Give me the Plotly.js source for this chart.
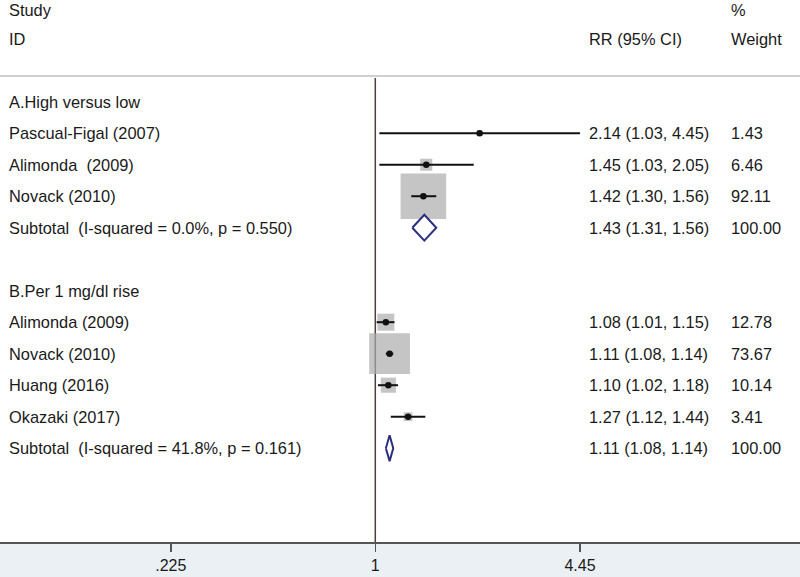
<!DOCTYPE html>
<html>
<head>
<meta charset="utf-8">
<script src="https://cdn.plot.ly/plotly-3.0.1.min.js"></script>
<style>html,body{margin:0;padding:0;background:#fff;}#chart{width:800px;height:577px;}</style>
</head>
<body>
<div id="chart"></div>
<script>
// ---- data ----
const groupLabels = ['A.High versus low', 'B.Per 1 mg/dl rise'];

const studiesA = ['Pascual-Figal (2007)', 'Alimonda\u00a0\u00a0(2009)', 'Novack (2010)'];
const rrA = [2.14, 1.45, 1.42];
const loA = [1.03, 1.03, 1.30];
const hiA = [4.45, 2.05, 1.56];
const weightA = [1.43, 6.46, 92.11];
const subLabelA = 'Subtotal\u00a0\u00a0(I-squared = 0.0%, p = 0.550)';
const subA = [1.43, 1.31, 1.56, 100.00]; // RR, lo, hi, weight

const studiesB = ['Alimonda (2009)', 'Novack (2010)', 'Huang (2016)', 'Okazaki (2017)'];
const rrB = [1.08, 1.11, 1.10, 1.27];
const loB = [1.01, 1.08, 1.02, 1.12];
const hiB = [1.15, 1.14, 1.18, 1.44];
const weightB = [12.78, 73.67, 10.14, 3.41];
const subLabelB = 'Subtotal\u00a0\u00a0(I-squared = 41.8%, p = 0.161)';
const subB = [1.11, 1.08, 1.14, 100.00];

const tickVals = [0.225, 1, 4.45];
const tickText = ['.225', '1', '4.45'];

// ---- build rows ----
const FONT = 'Liberation Sans, Arial, sans-serif';
const TXT = '#1a1a1a';
const annotations = [];
function txt(xpx, row, s) {
  annotations.push({x: xpx / 800, xref: 'paper', y: row, yref: 'y', text: s,
    showarrow: false, xanchor: 'left', yanchor: 'middle', borderpad: 0, borderwidth: 0,
    font: {family: FONT, size: 16.4, color: TXT}});
}
const colL = 8.5, colRR = 588.5, colW = 731;
txt(colL, -2.9, 'Study'); txt(colW, -2.9, '%');
txt(colL, -2, 'ID'); txt(colRR, -2, 'RR (95% CI)'); txt(colW, -2, 'Weight');

const fmt = (e, l, h) => e.toFixed(2) + ' (' + l.toFixed(2) + ', ' + h.toFixed(2) + ')';

const box = {x: [], y: [], s: []};
const ci = {x: [], y: []};
const pt = {x: [], y: []};
const diamonds = [];

let row = 0;
function addGroup(label, names, rr, lo, hi, w, subLabel, sub) {
  txt(colL, row, label); row++;
  for (let i = 0; i < names.length; i++) {
    txt(colL, row, names[i]);
    txt(colRR, row, fmt(rr[i], lo[i], hi[i]));
    txt(colW, row, w[i].toFixed(2));
    box.x.push(rr[i]); box.y.push(row); box.s.push(4.75 * Math.sqrt(w[i]));
    ci.x.push(lo[i], hi[i], null); ci.y.push(row, row, null);
    pt.x.push(rr[i]); pt.y.push(row);
    row++;
  }
  txt(colL, row, subLabel);
  txt(colRR, row, fmt(sub[0], sub[1], sub[2]));
  txt(colW, row, sub[3].toFixed(2));
  const h = 0.41;
  diamonds.push({x: [sub[1], sub[0], sub[2], sub[0], sub[1]], y: [row, row - h, row, row + h, row]});
  row++;
  row++; // blank line
}
addGroup(groupLabels[0], studiesA, rrA, loA, hiA, weightA, subLabelA, subA);
addGroup(groupLabels[1], studiesB, rrB, loB, hiB, weightB, subLabelB, subB);

const traces = [];
traces.push({type: 'scatter', mode: 'markers', x: box.x, y: box.y, hoverinfo: 'skip',
  marker: {symbol: 'square', size: box.s, color: '#adadad', line: {width: 0}}});
traces.push({type: 'scatter', mode: 'lines', x: ci.x, y: ci.y, hoverinfo: 'skip',
  line: {color: '#111', width: 2}, connectgaps: false});
traces.push({type: 'scatter', mode: 'markers', x: pt.x, y: pt.y, hoverinfo: 'skip',
  marker: {symbol: 'circle', size: 6.5, color: '#111'}});
diamonds.forEach(d => traces.push({type: 'scatter', mode: 'lines', x: d.x, y: d.y, fill: 'toself',
  fillcolor: '#ffffff', hoverinfo: 'skip', line: {color: '#2b2f80', width: 2}}));

const layout = {
  width: 800, height: 577,
  margin: {l: 0, r: 0, t: 0, b: 35},
  paper_bgcolor: '#eaf0f3', plot_bgcolor: '#ffffff',
  showlegend: false,
  xaxis: {type: 'log', range: [-1.1888, 1.3453], domain: [0, 1],
    tickvals: tickVals, ticktext: tickText, ticks: 'outside', ticklen: 8, tickwidth: 1.5,
    tickcolor: '#555', showline: true, linecolor: '#555', linewidth: 2,
    showgrid: false, zeroline: false, tickfont: {family: FONT, size: 16, color: TXT}},
  yaxis: {range: [13.978, -3.229], visible: false, showgrid: false, zeroline: false},
  shapes: [
    {type: 'line', xref: 'paper', x0: 0, x1: 1, yref: 'y', y0: -0.82, y1: -0.82,
     line: {color: '#d0d0d0', width: 2}},
    {type: 'line', xref: 'x', x0: 1, x1: 1, yref: 'y', y0: -0.75, y1: 13.978,
     line: {color: '#4a4040', width: 1.5}, layer: 'below'}
  ],
  annotations: annotations
};
Plotly.newPlot('chart', traces, layout, {displayModeBar: false, staticPlot: true});
</script>
</body>
</html>
